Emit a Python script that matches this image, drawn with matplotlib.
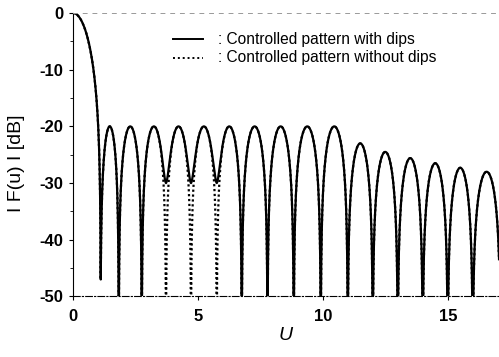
import numpy as np
import matplotlib
matplotlib.use('Agg')
import matplotlib.pyplot as plt

# values
main_null = 1.11          # first null of the main beam
null_u = [1.11, 1.83, 2.75, 3.72, 4.72, 5.75, 6.75, 7.78, 8.83, 9.91,
          10.99, 11.99, 12.99, 13.99, 14.99, 15.99, 17.1]
peak_db = [-20, -20, -20, -20, -20, -20, -20, -20, -20, -20,
           -23, -24.5, -25.6, -26.5, -27.3, -28.0]
# depth of each null (index matches null_u)
depth_dips = [-47, -70, -70, -30, -30, -30, -70, -70, -70, -70,
              -70, -70, -70, -70, -70, -70, -70]
depth_nodips = [-47, -70, -70, -70, -70, -70, -70, -70, -70, -70,
                -70, -70, -70, -70, -70, -70, -70]


def pattern(depths):
    us, ys = [], []
    u = np.linspace(1e-4, main_null, 200)
    x = np.pi * u / main_null
    y = 20 * np.log10(np.abs(np.sin(x) / x) + 1e-9)
    us.append(u)
    ys.append(np.maximum(y, depths[0]))
    for i, p in enumerate(peak_db):
        a, b = null_u[i], null_u[i + 1]
        u = np.linspace(a, b, 400)
        s = np.abs(np.sin(np.pi * (u - a) / (b - a)))
        t = (u - a) / (b - a)
        d = np.where(t < 0.5, depths[i], depths[i + 1])
        amp = 10 ** (p / 20) * s + 10 ** (d / 20) * (1 - s) ** 3
        us.append(u)
        ys.append(20 * np.log10(amp))
    return np.concatenate(us), np.concatenate(ys)


plt.rcParams['font.family'] = ['Liberation Sans', 'DejaVu Sans']
plt.rcParams['axes.unicode_minus'] = False

fig = plt.figure(figsize=(4.99, 3.57), dpi=100)
ax = fig.add_axes([0.1463, 0.1695, 0.8537, 0.7941])

u2, y2 = pattern(depth_nodips)
u1, y1 = pattern(depth_dips)
ax.plot(u2, y2, color='black', lw=1.6, ls=(0, (1, 1.2)))
ax.plot(u1, y1, color='black', lw=1.6)

ax.set_xlim(0, 17.04)
ax.set_ylim(-50, 0)
ax.set_xticks([0, 5, 10, 15])
ax.set_yticks([0, -10, -20, -30, -40, -50])
ax.set_yticks([-5, -15, -25, -35, -45], minor=True)
ax.tick_params(axis='both', which='major', labelsize=12, direction='out',
               length=3, width=0.8, pad=4)
ax.tick_params(axis='x', which='major', pad=6)
ax.tick_params(axis='y', which='minor', direction='out', length=2, width=0.6)
for lab in ax.get_xticklabels() + ax.get_yticklabels():
    lab.set_fontweight('bold')

ax.spines['right'].set_visible(False)
ax.spines['top'].set_linestyle((0, (4, 6)))
ax.spines['top'].set_color('#999999')
ax.spines['top'].set_linewidth(0.7)
ax.spines['bottom'].set_linestyle((0, (6, 2, 1, 2)))
ax.spines['bottom'].set_linewidth(0.8)
ax.spines['left'].set_linewidth(0.8)

ax.set_xlabel('U', fontsize=14, style='italic', labelpad=2)
ax.set_ylabel('I F(u) I [dB]', fontsize=14, labelpad=0)
ax.yaxis.set_label_coords(-0.112, 0.47)

# legend drawn by hand like the original
ax.plot([4.0, 5.2], [-4.6, -4.6], color='black', lw=1.4)
ax.plot([4.0, 5.2], [-7.9, -7.9], color='black', lw=1.4, ls=(0, (1, 1.5)))
ax.text(5.8, -4.6, ': Controlled pattern with dips', fontsize=11.2, va='center')
ax.text(5.8, -7.9, ': Controlled pattern without dips', fontsize=11.2, va='center')

fig.savefig('out.png', dpi=100)
